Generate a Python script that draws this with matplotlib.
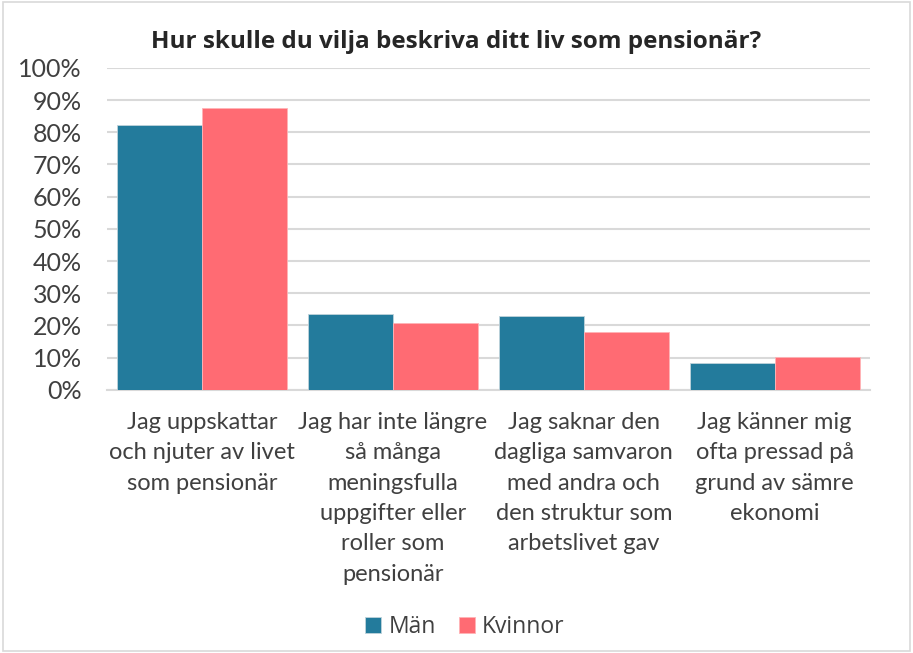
import matplotlib.pyplot as plt
import numpy as np
from matplotlib.patches import Rectangle

# Data
categories = [
    "Jag uppskattar\noch njuter av livet\nsom pensionär",
    "Jag har inte längre\nså många\nmeningsfulla\nuppgifter eller\nroller som\npensionär",
    "Jag saknar den\ndagliga samvaron\nmed andra och\nden struktur som\narbetslivet gav",
    "Jag känner mig\nofta pressad på\ngrund av sämre\nekonomi",
]
man = [82.2, 23.5, 22.8, 8.2]
kvinnor = [87.5, 20.8, 18.0, 10.1]
series_names = ["Män", "Kvinnor"]
yticks = list(range(0, 101, 10))

Man_Color = "#237B9C"
Kvinnor_Color = "#FF6B73"
Text_Color = "#404040"

plt.rcParams['font.family'] = ['Lato', 'DejaVu Sans']

fig = plt.figure(figsize=(9.13, 6.53), dpi=100)
ax = fig.add_axes([0.117, 0.403, 0.836, 0.493])

x = np.arange(len(categories))
w = 0.445
ax.bar(x - w / 2, man, width=w, color=Man_Color, edgecolor="#BFD3DB", linewidth=0.6, label=series_names[0], zorder=3)
ax.bar(x + w / 2, kvinnor, width=w, color=Kvinnor_Color, edgecolor="#FFB3B6", linewidth=0.6, label=series_names[1], zorder=3)

ax.set_xlim(-0.5, len(categories) - 0.5)
ax.set_ylim(0, 100)
ax.set_yticks(yticks)
ax.set_yticklabels([f"{v}%" for v in yticks], fontsize=18, color=Text_Color)
ax.yaxis.grid(True, color="#D9D9D9", linewidth=1.5, zorder=0)
ax.set_axisbelow(True)
for s in ["top", "right", "left"]:
    ax.spines[s].set_visible(False)
ax.spines["bottom"].set_color("#D9D9D9")
ax.spines["bottom"].set_linewidth(1.5)
ax.tick_params(axis="y", length=0, pad=18)
ax.set_xticks(x)
ax.set_xticklabels(categories, fontsize=17, color=Text_Color, linespacing=1.55, va="top")
ax.tick_params(axis="x", length=0, pad=16)

fig.text(0.5, 0.936, "Hur skulle du vilja beskriva ditt liv som pensionär?",
         ha="center", va="center", fontsize=17.5, fontweight="bold", color="#262626",
         family="Open Sans")

ax.legend(loc="center", bbox_to_anchor=(0.509, 0.04), bbox_transform=fig.transFigure,
          ncol=2, frameon=False, prop={"family": "Open Sans", "size": 16.5},
          handlelength=0.7, handleheight=0.7,
          handletextpad=0.3, columnspacing=1.0, labelcolor=Text_Color)

# Chart area border
fig.patches.append(Rectangle((0.003, 0.003), 0.994, 0.994, transform=fig.transFigure,
                             fill=False, edgecolor="#D9D9D9", linewidth=1.2))

fig.savefig("out.png", dpi=100)
